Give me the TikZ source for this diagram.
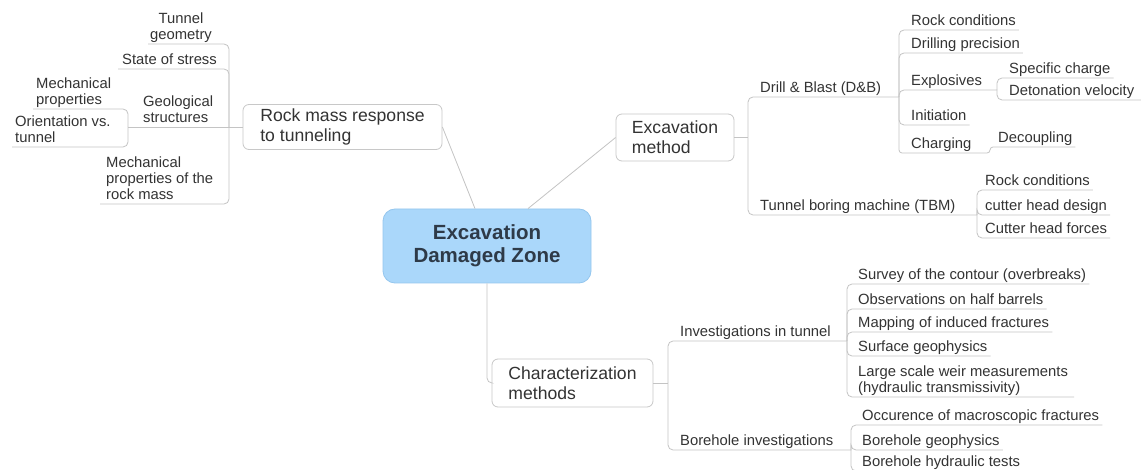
\documentclass[tikz,border=0pt]{standalone}
\usepackage{fontspec}
\setmainfont{Liberation Sans}
\definecolor{linegray}{RGB}{196,196,196}
\definecolor{boxgray}{RGB}{200,200,200}
\definecolor{txtgray}{RGB}{51,51,51}
\definecolor{edzblue}{RGB}{170,215,250}
\definecolor{edzline}{RGB}{148,198,238}
\definecolor{edztext}{RGB}{46,58,72}
\newcommand{\leaffont}{\fontsize{14.8}{16}\selectfont}
\newcommand{\topicfont}{\fontsize{17.6}{20}\selectfont}
\newcommand{\edzfont}{\fontsize{20.5}{23}\selectfont\bfseries}
\newcommand{\leafl}[1]{\begin{tabular}[b]{@{}l@{}}#1\end{tabular}}
\newcommand{\leafc}[1]{\begin{tabular}[b]{@{}c@{}}#1\end{tabular}}
\tikzset{
  branch/.style={draw=linegray, line width=0.8pt, rounded corners=5pt},
  leaf/.style={anchor=south west, inner xsep=0pt, inner ysep=4pt, text depth=0pt, text=txtgray, font=\leaffont},
  topic/.style={draw=boxgray, line width=0.8pt, rounded corners=6pt, fill=white, align=left, inner sep=0pt, text=txtgray, font=\topicfont},
  central/.style={draw=edzline, line width=0.8pt, fill=edzblue, rounded corners=12pt, align=center, inner sep=0pt, text=edztext, font=\edzfont}
}
\begin{document}
\begin{tikzpicture}[x=1pt,y=-1pt]
\fill[white] (0,0) rectangle (1141,470);
\useasboundingbox (0,0) rectangle (1141,470);

\node[central, minimum width=208pt, minimum height=74pt] (edz) at (487,246) {Excavation\\Damaged Zone};
\node[topic, minimum width=199pt, minimum height=45pt] (rm) at (342.5,127) {Rock mass response\\to tunneling};
\node[topic, minimum width=118pt, minimum height=47pt] (em) at (675,137.5) {Excavation\\method};
\node[topic, minimum width=161pt, minimum height=48pt] (cm) at (572.5,383) {Characterization\\methods};

\coordinate (rmj) at (229,127);
\coordinate (gj) at (128,127);
\coordinate (emj) at (748,137.5);
\coordinate (dbj) at (899,97);
\coordinate (exj) at (997,90);
\coordinate (chj) at (990,153);
\coordinate (tbj) at (977,215);
\coordinate (cmj) at (668,383);
\coordinate (itj) at (847,341);
\coordinate (bij) at (851,450);

\node[leaf] (tg) at (150,44) {\leafc{Tunnel\\geometry}};
\node[leaf] (ss) at (122,69) {State of stress};
\node[leaf] (gs) at (143,127) {\leafl{Geological\\structures}};
\node[leaf] (mp) at (36,109) {\leafl{Mechanical\\properties}};
\node[leaf] (ot) at (15,147) {\leafl{Orientation vs.\\tunnel}};
\node[leaf] (mr) at (106,204) {\leafl{Mechanical\\properties of the\\rock mass}};

\node[leaf] (db) at (760,97) {Drill \& Blast (D\&B)};
\node[leaf] (tb) at (760,215) {Tunnel boring machine (TBM)};
\node[leaf] (rc1) at (911,30) {Rock conditions};
\node[leaf] (dp) at (911,53) {Drilling precision};
\node[leaf] (ex) at (911,90) {Explosives};
\node[leaf] (sc) at (1009,78) {Specific charge};
\node[leaf] (dv) at (1009,100) {Detonation velocity};
\node[leaf] (ini) at (911,125) {Initiation};
\node[leaf] (ch) at (911,153) {Charging};
\node[leaf] (dc) at (998,147) {Decoupling};
\node[leaf] (rc2) at (985,190) {Rock conditions};
\node[leaf] (hd) at (985,215) {cutter head design};
\node[leaf] (hf) at (985,238) {Cutter head forces};

\node[leaf] (it) at (680,341) {Investigations in tunnel};
\node[leaf] (bi) at (680,450) {Borehole investigations};
\node[leaf] (sv) at (858,284) {Survey of the contour (overbreaks)};
\node[leaf] (ob) at (858,309) {Observations on half barrels};
\node[leaf] (mf) at (858,332) {Mapping of induced fractures};
\node[leaf] (sg) at (858,356) {Surface geophysics};
\node[leaf] (lw) at (858,397) {\leafl{Large scale weir measurements\\(hydraulic transmissivity)}};
\node[leaf] (oc) at (862,425) {Occurence of macroscopic fractures};
\node[leaf] (bg) at (862,450) {Borehole geophysics};
\node[leaf] (bh) at (862,471) {Borehole hydraulic tests};

\draw[branch] (rm.east) -- ([xshift=-12pt]edz.north);
\draw[branch] ([xshift=41pt]edz.north) -- (em.west);
\draw[branch] (edz.south) |- (cm.west);

\draw[branch] (rm.west) -- (rmj);
\draw[branch] (rmj) |- ([xshift=-2pt]tg.south west);
\draw[branch] (rmj) |- ([xshift=-4pt]ss.south west);
\draw[branch] (rmj) -- (gj);
\draw[branch] (rmj) |- ([xshift=-6pt]mr.south west);
\draw[branch] (gj) |- ([xshift=-3pt]mp.south west);
\draw[branch] (gj) |- ([xshift=-3pt]ot.south west);

\draw[branch] (em.east) -- (emj);
\draw[branch] (emj) |- (dbj);
\draw[branch] (emj) |- (tbj);
\draw[branch] (dbj) |- ([xshift=3pt]rc1.south east);
\draw[branch] (dbj) |- ([xshift=3pt]dp.south east);
\draw[branch] (dbj) |- (exj);
\draw[branch] (exj) |- ([xshift=3pt]sc.south east);
\draw[branch] (exj) |- ([xshift=8pt]dv.south east);
\draw[branch] (dbj) |- ([xshift=3pt]ini.south east);
\draw[branch, rounded corners=3pt] (dbj) |- (chj) |- ([xshift=3pt]dc.south east);
\draw[branch] (tbj) |- ([xshift=3pt]rc2.south east);
\draw[branch] (tbj) |- ([xshift=3pt]hd.south east);
\draw[branch] (tbj) |- ([xshift=3pt]hf.south east);

\draw[branch] (cm.east) -- (cmj);
\draw[branch] (cmj) |- (itj);
\draw[branch] (cmj) |- (bij);
\draw[branch] (itj) |- ([xshift=3pt]sv.south east);
\draw[branch] (itj) |- ([xshift=3pt]ob.south east);
\draw[branch] (itj) |- ([xshift=3pt]mf.south east);
\draw[branch] (itj) |- ([xshift=3pt]sg.south east);
\draw[branch] (itj) |- ([xshift=6pt]lw.south east);
\draw[branch] (bij) |- ([xshift=3pt]oc.south east);
\draw[branch] (bij) |- ([xshift=3pt]bg.south east);
\draw[branch] (bij) |- ([xshift=3pt]bh.south east);
\end{tikzpicture}
\end{document}
